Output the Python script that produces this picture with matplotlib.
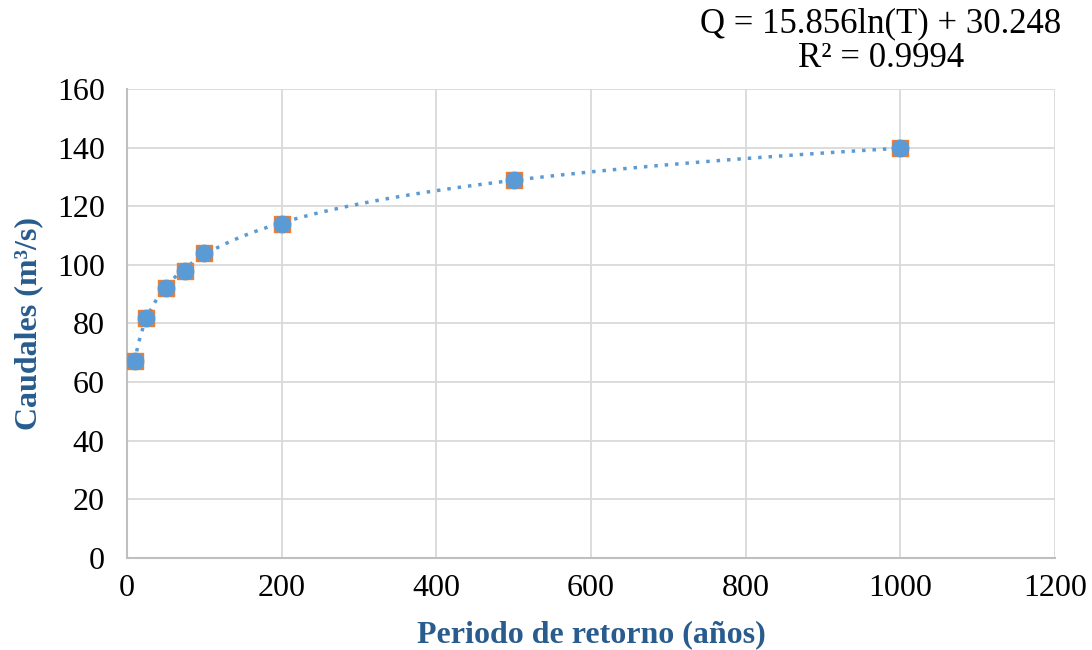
import matplotlib
matplotlib.use('Agg')
import matplotlib.pyplot as plt
import numpy as np

# Periodo de retorno vs caudales
periodos = [10, 25, 50, 75, 100, 200, 500, 1000]
caudales = [67, 82, 92, 98, 104, 114, 129, 140]

plt.rcParams['font.family'] = ['Liberation Serif', 'DejaVu Serif']

# logarithmic trendline fitted to the data (like Excel)
a, b = np.polyfit(np.log(periodos), caudales, 1)
t_fit = np.linspace(min(periodos), max(periodos), 400)
q_fit = a * np.log(t_fit) + b

fig = plt.figure(figsize=(10.92, 6.5), dpi=100)
ax = fig.add_axes([0.1163, 0.142, 0.8498, 0.721])

ax.plot(t_fit, q_fit, linestyle=(0, (1, 2)), color='#5B9BD5', linewidth=2.5, zorder=2)
ax.scatter(periodos, caudales, marker='s', s=125, color='#ED7D31', zorder=3)
ax.scatter(periodos, caudales, marker='o', s=140, color='#5B9BD5', zorder=4)

ax.set_xlim(0, 1200)
ax.set_ylim(0, 160)
ax.set_xticks(range(0, 1201, 200))
ax.set_yticks(range(0, 161, 20))
ax.grid(True, color='#D9D9D9', linewidth=1.3)
ax.set_axisbelow(True)
for s in ['top', 'right']:
    ax.spines[s].set_visible(False)
for s in ['left', 'bottom']:
    ax.spines[s].set_color('#BFBFBF')
    ax.spines[s].set_linewidth(1.5)
ax.tick_params(length=0, labelsize=23)
ax.tick_params(axis='y', pad=16)
ax.tick_params(axis='x', pad=12)

ax.set_xlabel('Periodo de retorno (años)', fontsize=23, fontweight='bold', color='#285C8E', labelpad=12)
ax.set_ylabel('Caudales (m³/s)', fontsize=23, fontweight='bold', color='#285C8E', labelpad=10)

ax.text(1.007, 1.03, 'Q = 15.856ln(T) + 30.248\nR² = 0.9994', transform=ax.transAxes,
        ha='right', va='bottom', fontsize=25, linespacing=1.05, multialignment='center')

fig.savefig('out.png', dpi=100)
